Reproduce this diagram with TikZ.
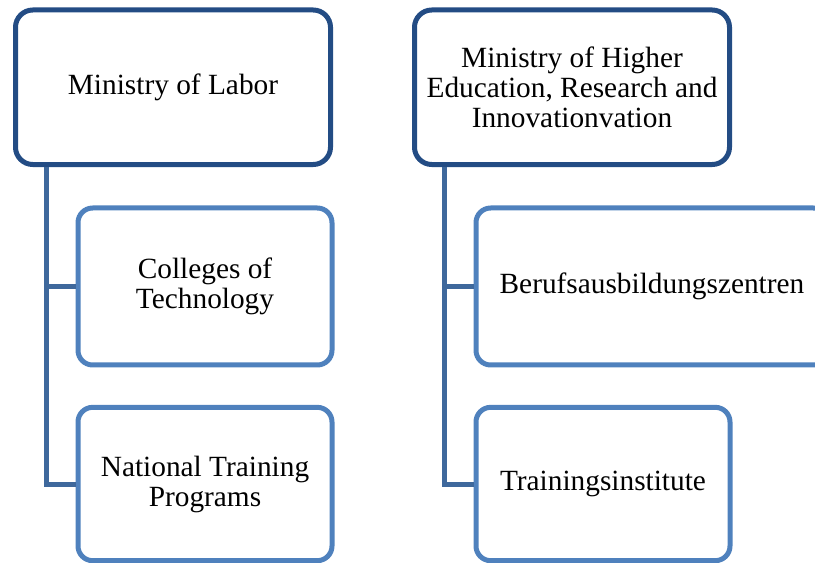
\documentclass[tikz,border=0pt]{standalone}
\usepackage{fontspec}
\setmainfont{Liberation Serif}
\usepackage{xcolor}
\usepackage{tikz}
\definecolor{headblue}{RGB}{35,76,132}
\definecolor{unitblue}{RGB}{79,129,189}
\definecolor{linkblue}{RGB}{62,104,156}

\begin{document}
\begin{tikzpicture}[x=0.75pt, y=-0.75pt,
        ministry/.style={draw=headblue, line width=3.75pt, rounded corners=13pt, minimum width=236.25pt, minimum height=115.9pt, align=center, font=\fontsize{22}{22.5}\selectfont},
        unit/.style={draw=unitblue, line width=3.75pt, rounded corners=11pt, minimum width=190.5pt, minimum height=117.75pt, align=center, font=\fontsize{22}{22.5}\selectfont},
        link/.style={draw=linkblue, line width=3.75pt}]
        \clip (0, 0) rectangle (815, 563);

        \node[ministry] (labor) at (173, 87.25) {Ministry of Labor};
        \node[ministry] (higher) at (572, 87.25) {Ministry of Higher\\Education, Research and\\Innovationvation};

        \node[unit] (colleges) at (205, 286.5) {Colleges of\\Technology};
        \node[unit, minimum height=115pt] (national) at (205, 484) {National Training\\Programs};
        \node[unit, minimum width=264pt] (berufs) at (652, 286.5) {Berufsausbildungszentren};
        \node[unit, minimum height=115pt] (institute) at (603, 484) {Trainingsinstitute};

        \coordinate (trunkL) at (46, 0);
        \coordinate (trunkR) at (444.5, 0);
        \draw[link] (labor.south -| trunkL) |- (colleges.west);
        \draw[link] (labor.south -| trunkL) |- (national.west);
        \draw[link] (higher.south -| trunkR) |- (berufs.west);
        \draw[link] (higher.south -| trunkR) |- (institute.west);
    \end{tikzpicture}
\end{document}
